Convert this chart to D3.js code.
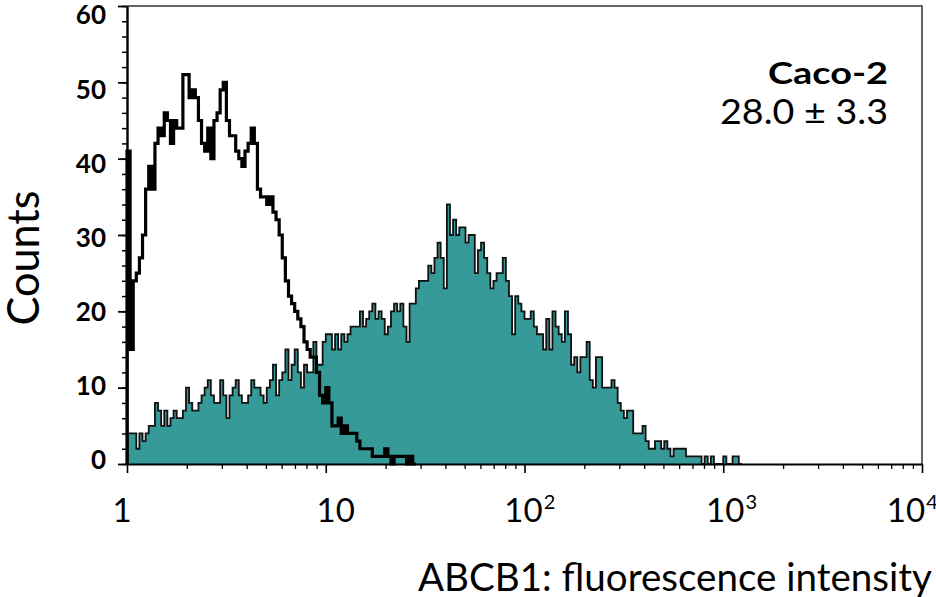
<!DOCTYPE html>
<html><head><meta charset="utf-8">
<script src="https://cdn.jsdelivr.net/npm/d3@7"></script>
<style>body{margin:0;background:#fff;overflow:hidden} svg{display:block}</style>
</head><body><svg id="c" width="936" height="597"></svg>
<script>
// ---- data ----
const binsPerDecade = 64;
const abcb1Counts = [4,4,4,2,4,3,4,5,5,8, 7,5,7,5,6,7,6,6,7,10, 8,7,7,8,9,10,11,9,8,8, 11,9,6,9,10,11,9,8,8,9,
 11,10,10,9,8,10,11,13,9,11, 12,15,11,13,15,12,10,13,12,12, 16,13,13,16,17,17,15,17,15,17, 16,17,18,18,18,20,18,19,20,21,
 19,20,19,17,18,20,21,20,21,18, 16,21,21,23,24,24,24,26,25,27, 29,27,23,34,30,32,30,31,31,29, 30,30,25,28,29,27,25,23,24,25,
 25,27,24,22,17,22,21,20,19,19, 20,18,17,17,15,19,15,20,18,17, 16,20,17,13,14,12,14,14,16,11, 10,14,14,10,10,10,11,10,8,7,
 6,7,7,4,4,4,5,3,2,2, 3,3,2,3,2,1,2,2,2,2, 1,1,1,1,1,0,1,0,1,0, 0,0,1,0,0,1,1,0];
const controlCounts = [41,15,24,25,27,30,36,39,36,42, 44,43,46,45,42,45,44,44,51,51, 48,49,48,45,42,41,44,40,45,46,
 49,50,45,43,43,41,40,39,41,42, 44,42,36,35,35,34,35,33,32,30, 27,24,22,21,20,19,18,16,15,14,
 14,12,9,8,10,8,5,5,6,4, 5,4,4,4,3,2,2,2,2,1, 1,1,1,2,1,0,1,1,1,1, 0,1,0];
const yTicks = [0,10,20,30,40,50,60];
const yMinorTicks = d3.range(0, 61, 2);
const xTickValues = [1,10,100,1000,10000];
const xTickBase = ["1","10","10","10","10"];
const xTickExp = ["","","2","3","4"];
const sampleName = "Caco-2";
const sampleValue = "28.0 ± 3.3";
const yTitle = "Counts";
const xTitle = "ABCB1: fluorescence intensity";

// ---- layout ----
const svg = d3.select("#c");
const FONT = "Lato, 'Open Sans', sans-serif";
const x = d3.scaleLog().domain([1, 1e4]).range([127, 922]);
const y = d3.scaleLinear().domain([0, 60]).range([464, 6]);
const yLabel = d3.scaleLinear().domain([0, 60]).range([460, 15]); // label placement as in the original
const edge = i => Math.pow(10, i / binsPerDecade);

function stepPoints(arr) {
  const pts = arr.map((v, i) => [edge(i), v]);
  pts.push([edge(arr.length), arr[arr.length - 1]]);
  return pts;
}

// frame (top & right)
svg.append("path")
  .attr("d", `M${x(1)},${y(60)}H${x(1e4)}V${y(0)}`)
  .attr("fill", "none").attr("stroke", "#333").attr("stroke-width", 1.5);

// filled ABCB1 histogram
const area = d3.area().curve(d3.curveStepAfter)
  .x(d => x(d[0])).y0(y(0)).y1(d => y(d[1]));
const line = d3.line().curve(d3.curveStepAfter)
  .x(d => x(d[0])).y(d => y(d[1]));
const tealPts = stepPoints(abcb1Counts);
svg.append("path").attr("d", area(tealPts)).attr("fill", "#369b98");
svg.append("path").attr("d", line([[1, 0]].concat(tealPts)))
  .attr("fill", "none").attr("stroke", "#111").attr("stroke-width", 1.8);

// control histogram (black outline)
const ctrlPts = [[1, 0]].concat(stepPoints(controlCounts));
svg.append("path").attr("d", line(ctrlPts))
  .attr("fill", "none").attr("stroke", "#000").attr("stroke-width", 3.2)
  .attr("stroke-linejoin", "miter");

// y axis
const gy = svg.append("g").attr("transform", `translate(${x(1)},0)`);
gy.call(d3.axisLeft(y).tickValues(yMinorTicks).tickSize(5).tickSizeOuter(0).tickFormat(""));
gy.selectAll(".tick line").attr("stroke-width", 1.5);
gy.select(".domain").remove();
const gyMaj = svg.append("g").attr("transform", `translate(${x(1)},0)`);
gyMaj.call(d3.axisLeft(y).tickValues(yTicks).tickSize(9).tickSizeOuter(0).tickFormat(""));
gyMaj.select(".domain").attr("stroke-width", 2.4);
gyMaj.selectAll(".tick line").attr("stroke-width", 1.8);
svg.append("g").selectAll("text").data(yTicks).join("text")
  .attr("x", 106).attr("y", d => yLabel(d)).attr("dy", "0.36em")
  .attr("text-anchor", "end").attr("font-family", FONT).attr("font-weight", "bold")
  .attr("font-size", 26).attr("fill", "#000").text(d3.format("d"));

// x axis
const minorX = [];
for (let d = 1; d < 1e4; d *= 10) for (let k = 2; k <= 9; k++) minorX.push(d * k);
const gx = svg.append("g").attr("transform", `translate(0,${y(0)})`);
gx.call(d3.axisBottom(x).tickValues(minorX).tickSize(5).tickSizeOuter(0).tickFormat(""));
gx.selectAll(".tick line").attr("stroke-width", 1.3);
gx.select(".domain").attr("stroke-width", 1.8);
const gxMaj = svg.append("g").attr("transform", `translate(0,${y(0)})`);
gxMaj.call(d3.axisBottom(x).tickValues(xTickValues).tickSize(9).tickSizeOuter(0).tickFormat(""));
gxMaj.select(".domain").remove();
gxMaj.selectAll(".tick line").attr("stroke-width", 1.6);

const labelDx = [-5, 10, -1, 2, -16];
xTickValues.forEach((v, i) => {
  const t = svg.append("text").attr("x", x(v) + labelDx[i]).attr("y", 522)
    .attr("text-anchor", "middle").attr("font-family", FONT).attr("font-size", 33)
    .attr("fill", "#000").text(xTickBase[i]);
  if (xTickExp[i]) {
    const w = t.node().getComputedTextLength();
    svg.append("text").attr("x", x(v) + labelDx[i] + w / 2 + 1).attr("y", 509)
      .attr("font-family", FONT).attr("font-size", 20).attr("fill", "#000").text(xTickExp[i]);
  }
});

// axis titles
svg.append("text").attr("transform", "translate(39,258) rotate(-90)")
  .attr("text-anchor", "middle").attr("font-family", FONT).attr("font-size", 44)
  .attr("textLength", 135).attr("lengthAdjust", "spacingAndGlyphs").text(yTitle);
svg.append("text").attr("x", 418).attr("y", 591)
  .attr("font-family", FONT).attr("font-size", 39)
  .attr("textLength", 514).attr("lengthAdjust", "spacingAndGlyphs").text(xTitle);

// legend
svg.append("text").attr("x", 888).attr("y", 84).attr("text-anchor", "end")
  .attr("font-family", FONT).attr("font-weight", "bold").attr("font-size", 31)
  .attr("textLength", 120).attr("lengthAdjust", "spacingAndGlyphs").text(sampleName);
svg.append("text").attr("x", 888).attr("y", 124).attr("text-anchor", "end")
  .attr("font-family", FONT).attr("font-size", 35)
  .attr("textLength", 168).attr("lengthAdjust", "spacingAndGlyphs").text(sampleValue);
</script></body></html>
